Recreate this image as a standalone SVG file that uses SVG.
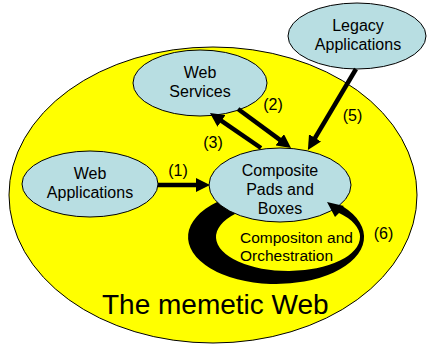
<svg xmlns="http://www.w3.org/2000/svg" width="427" height="346" viewBox="0 0 427 346">
<style>
  .node { fill: #B8DEE2; stroke: #000; stroke-width: 1; }
  .bg { fill: #FFFF00; stroke: #000; stroke-width: 1; }
  .t { font-family: "Liberation Sans", Arial, sans-serif; font-size: 16px; fill: #000; text-anchor: middle; }
  .lbl { font-family: "Liberation Sans", Arial, sans-serif; font-size: 16px; fill: #000; text-anchor: middle; }
  .cl { font-family: "Liberation Sans", Arial, sans-serif; font-size: 15.5px; fill: #000; }
  .big { font-family: "Liberation Sans", Arial, sans-serif; font-size: 28px; fill: #000; }
  .arrow { stroke: #000; stroke-width: 4.5; fill: none; marker-end: url(#ah); }
</style>
<defs>
  <marker id="ah" viewBox="0 0 14 14" markerWidth="14" markerHeight="14" markerUnits="userSpaceOnUse" refX="4" refY="7" orient="auto">
    <path d="M0,0 L14,7 L0,14 Z" fill="#000"/>
  </marker>
</defs>
<rect width="427" height="346" fill="#fff"/>
<g id="memetic-web">
  <ellipse class="bg" cx="213" cy="195" rx="204" ry="148"/>
  <text class="big" x="102" y="314">The memetic Web</text>
</g>
<g id="web-services">
  <ellipse class="node" cx="200" cy="83" rx="67" ry="33"/>
  <text class="t" x="200" y="78">Web</text>
  <text class="t" x="200" y="97">Services</text>
</g>
<g id="legacy-applications">
  <ellipse class="node" cx="357" cy="36" rx="69" ry="33"/>
  <text class="t" x="358" y="31">Legacy</text>
  <text class="t" x="358" y="50">Applications</text>
</g>
<g id="web-applications">
  <ellipse class="node" cx="90" cy="184" rx="68" ry="33"/>
  <text class="t" x="90" y="179">Web</text>
  <text class="t" x="90" y="198">Applications</text>
</g>
<g id="composite">
  <ellipse class="node" cx="280" cy="185" rx="71" ry="37"/>
  <text class="t" x="280" y="176">Composite</text>
  <text class="t" x="280" y="195">Pads and</text>
  <text class="t" x="280" y="214">Boxes</text>
</g>
<g id="connectors">
  <line class="arrow" x1="158" y1="185" x2="200" y2="185"/>
  <line class="arrow" x1="238" y1="109" x2="283" y2="142.1"/>
  <line class="arrow" x1="261" y1="148" x2="218.2" y2="118.7"/>
  <line class="arrow" x1="356" y1="69" x2="313" y2="141.3"/>
  <path d="M217.1,202.1 A88,47 0 1 0 343,206.5 L344,206 L327,202 L335,217 L339,213 A72,34 0 1 1 235.4,213.8 A71,37 0 0 1 217.1,202.1 Z" fill="#000"/>
  <text class="lbl" x="178" y="176">(1)</text>
  <text class="lbl" x="273" y="110">(2)</text>
  <text class="lbl" x="213" y="148">(3)</text>
  <text class="lbl" x="352.5" y="121">(5)</text>
  <text class="lbl" x="383.5" y="239">(6)</text>
</g>
<g id="composition-label">
  <text class="cl" x="240" y="243">Compositon and</text>
  <text class="cl" x="240" y="261">Orchestration</text>
</g>
</svg>
